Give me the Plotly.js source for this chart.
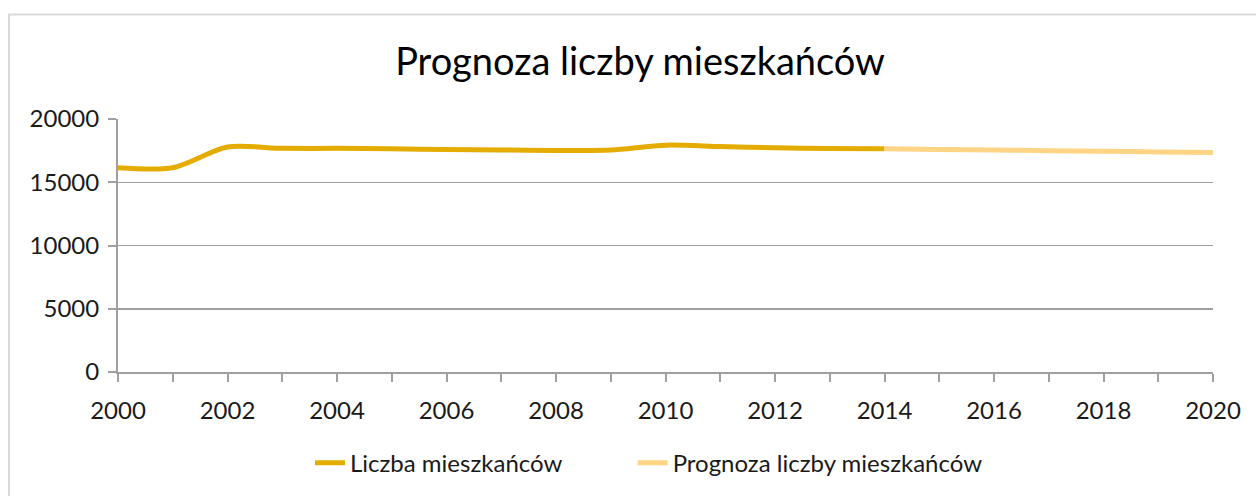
<!DOCTYPE html>
<html>
<head>
<meta charset="utf-8">
<script src="https://cdn.plot.ly/plotly-3.0.1.min.js"></script>
<style>
html,body{margin:0;padding:0;background:#fff;}
#chart{width:1256px;height:496px;}
</style>
</head>
<body>
<div id="chart"></div>
<script>
const yearsActual = [2000,2001,2002,2003,2004,2005,2006,2007,2008,2009,2010,2011,2012,2013,2014];
const valuesActual = [16140,16150,17780,17680,17680,17640,17590,17550,17510,17540,17930,17820,17720,17670,17640];
const yearsForecast = [2014,2015,2016,2017,2018,2019,2020];
const valuesForecast = [17640,17590,17550,17500,17450,17400,17350];
const seriesNames = ['Liczba mieszkańców','Prognoza liczby mieszkańców'];
const titleText = 'Prognoza liczby mieszkańców';

const FONT = 'Lato, "Open Sans", sans-serif';

const traces = [
  {x: yearsActual, y: valuesActual, name: seriesNames[0], type:'scatter', mode:'lines',
   legend:'legend',
   line:{color:'#E5AC00', width:5, shape:'spline', smoothing:0.8}},
  {x: yearsForecast, y: valuesForecast, name: seriesNames[1], type:'scatter', mode:'lines',
   legend:'legend2',
   line:{color:'#FFD485', width:5, shape:'spline', smoothing:0.8}}
];

const legendBase = {orientation:'h', xanchor:'left', y:-0.355, yanchor:'middle',
  font:{family:FONT, size:24, color:'#1a1a1a'}, bgcolor:'rgba(0,0,0,0)'};

const layout = {
  width:1256, height:496,
  margin:{l:118, r:43, t:119, b:123},
  paper_bgcolor:'#fff', plot_bgcolor:'#fff',
  font:{family:FONT, color:'#1a1a1a', size:24},
  title:{text:titleText, x:0.5096, xanchor:'center', y:0.875, yanchor:'middle',
         font:{family:FONT, size:38, color:'#000'}},
  showlegend:true,
  legend:Object.assign({}, legendBase, {x:0.1753}),
  legend2:Object.assign({}, legendBase, {x:0.470}),
  xaxis:{range:[2000,2020], dtick:2, tick0:2000, showgrid:false, zeroline:false,
         showline:true, linecolor:'#A0A0A0', linewidth:2,
         ticks:'outside', ticklen:8, tickcolor:'#A0A0A0', tickwidth:2, ticklabelstandoff:8,
         minor:{dtick:1, ticks:'outside', ticklen:8, tickcolor:'#A0A0A0', tickwidth:2, showgrid:false},
         tickfont:{family:FONT, size:24, color:'#1a1a1a'}, fixedrange:true},
  yaxis:{range:[0,20000], dtick:5000, tickformat:'d', showgrid:true, gridcolor:'#A0A0A0', gridwidth:1.5,
         zeroline:false, showline:true, linecolor:'#A0A0A0', linewidth:2,
         ticks:'outside', ticklen:8, tickcolor:'#A0A0A0', tickwidth:2, ticklabelstandoff:4,
         tickfont:{family:FONT, size:24, color:'#1a1a1a'}, fixedrange:true},
  shapes:[{type:'rect', xref:'paper', yref:'paper', x0:-0.0995, x1:1.2, y0:-0.6, y1:1.4134,
           line:{color:'#D9D9D9', width:2}, fillcolor:'rgba(0,0,0,0)', layer:'below'}]
};

Plotly.newPlot('chart', traces, layout, {displayModeBar:false, staticPlot:true});
</script>
</body>
</html>
